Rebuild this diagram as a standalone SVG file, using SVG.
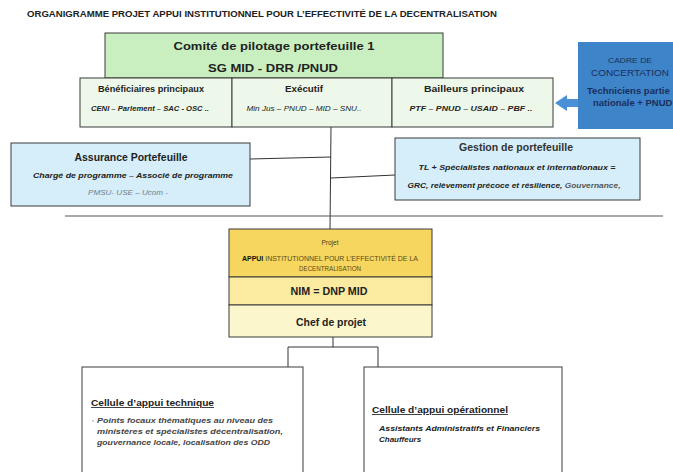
<svg xmlns="http://www.w3.org/2000/svg" width="673" height="472" viewBox="0 0 673 472">
<style>
text{font-family:"Liberation Sans",Arial,sans-serif;fill:#222}
.b{font-weight:bold}
.i{font-style:italic}
.c{text-anchor:middle}
.box{stroke:#3a3a3a;stroke-width:1}
.ln{stroke:#333;stroke-width:1;fill:none}
</style>
<rect width="673" height="472" fill="#ffffff"/>
<text x="27" y="17" class="b" font-size="8.5" textLength="470" lengthAdjust="spacingAndGlyphs">ORGANIGRAMME PROJET APPUI INSTITUTIONNEL POUR L’EFFECTIVITÉ DE LA DECENTRALISATION</text>

<g id="connectors">
<line class="ln" x1="331" y1="127" x2="330" y2="229"/>
<line class="ln" x1="250" y1="159" x2="331" y2="157"/>
<line class="ln" x1="331" y1="178" x2="395" y2="175"/>
<line x1="65" y1="216" x2="663" y2="216" stroke="#555" stroke-width="1.2"/>
<polyline class="ln" points="333,337 333,347"/>
<polyline class="ln" points="288,367 288,347 378,347 378,367"/>
<polygon points="555,103 567,95 567,99 578,99 578,107 567,107 567,111" fill="#4a90d6"/>
</g>

<g id="comite">
<rect class="box" x="105" y="33" width="338" height="45" fill="#c9efc0"/>
<text x="274" y="50" class="b c" font-size="11" textLength="201" lengthAdjust="spacingAndGlyphs">Comité de pilotage portefeuille 1</text>
<text x="273" y="72" class="b c" font-size="11.5" textLength="130" lengthAdjust="spacingAndGlyphs">SG MID - DRR /PNUD</text>
</g>

<g id="beneficiaires">
<rect class="box" x="80" y="78" width="152" height="49" fill="#eef8ea"/>
<text x="151" y="92" class="b c" font-size="9" textLength="106" lengthAdjust="spacingAndGlyphs">Bénéficiaires principaux</text>
<text x="150" y="111" class="b i c" font-size="8" textLength="118" lengthAdjust="spacingAndGlyphs">CENI – Parlement – SAC - OSC ..</text>
</g>
<g id="executif">
<rect class="box" x="232" y="78" width="160" height="49" fill="#eef8ea"/>
<text x="304" y="92" class="b c" font-size="9" textLength="38" lengthAdjust="spacingAndGlyphs">Exécutif</text>
<text x="304" y="111" class="i c" font-size="8" textLength="115" lengthAdjust="spacingAndGlyphs">Min Jus – PNUD – MID – SNU..</text>
</g>
<g id="bailleurs">
<rect class="box" x="392" y="78" width="161" height="49" fill="#eef8ea"/>
<text x="474" y="92" class="b c" font-size="9" textLength="100" lengthAdjust="spacingAndGlyphs">Bailleurs principaux</text>
<text x="471" y="111" class="b i c" font-size="8" textLength="123" lengthAdjust="spacingAndGlyphs">PTF – PNUD – USAID – PBF ..</text>
</g>

<g id="cadre">
<rect x="578" y="42" width="110" height="87" fill="#3d84c8"/>
<text x="630" y="63" class="c" font-size="8" style="fill:#1b2f5e" textLength="44" lengthAdjust="spacingAndGlyphs">CADRE DE</text>
<text x="630" y="76" class="c" font-size="8.5" style="fill:#1b2f5e" textLength="78" lengthAdjust="spacingAndGlyphs">CONCERTATION</text>
<text x="587" y="94" class="b" font-size="9.5" style="fill:#1b2f5e">Techniciens partie</text>
<text x="593" y="106" class="b" font-size="9.5" style="fill:#1b2f5e">nationale + PNUD</text>
</g>

<g id="assurance">
<rect class="box" x="11" y="143" width="239" height="63" fill="#d5eef9"/>
<text x="131" y="161" class="b c" font-size="10" textLength="113" lengthAdjust="spacingAndGlyphs">Assurance Portefeuille</text>
<text x="133" y="178" class="b i c" font-size="8" textLength="200" lengthAdjust="spacingAndGlyphs">Chargé de programme – Associé de programme</text>
<text x="128" y="195" class="i c" font-size="8" style="fill:#6b7d90" textLength="80" lengthAdjust="spacingAndGlyphs">PMSU- USE – Ucom -</text>
</g>

<g id="gestion">
<rect class="box" x="395" y="138" width="245" height="62" fill="#d5eef9" stroke-width="1.3"/>
<text x="516" y="151" class="b c" font-size="10" style="fill:#333" textLength="114" lengthAdjust="spacingAndGlyphs">Gestion de portefeuille</text>
<text x="517" y="170" class="b i c" font-size="8" textLength="197" lengthAdjust="spacingAndGlyphs">TL + Spécialistes nationaux et internationaux =</text>
<text x="514" y="188" class="b i c" font-size="8" textLength="213" lengthAdjust="spacingAndGlyphs">GRC, relèvement précoce et résilience, <tspan style="fill:#555">Gouvernance,</tspan></text>
</g>

<g id="projet">
<rect class="box" x="229" y="229" width="203" height="48" fill="#f6d65e"/>
<rect class="box" x="229" y="277" width="203" height="28" fill="#fbeba0"/>
<rect class="box" x="229" y="305" width="203" height="32" fill="#fbf6cc"/>
<text x="330" y="245" class="c" font-size="6.5" style="fill:#4a3e1a">Projet</text>
<text x="330" y="261" class="c" font-size="6.5" style="fill:#5a4a1a" textLength="176" lengthAdjust="spacingAndGlyphs"><tspan class="b" style="fill:#111">APPUI</tspan> INSTITUTIONNEL POUR L’EFFECTIVITÉ DE LA</text>
<text x="330" y="271" class="c" font-size="6.5" style="fill:#5a4a1a" textLength="62" lengthAdjust="spacingAndGlyphs">DECENTRALISATION</text>
<text x="329" y="295" class="b c" font-size="10" textLength="77" lengthAdjust="spacingAndGlyphs">NIM = DNP MID</text>
<text x="331" y="326" class="b c" font-size="10" textLength="70" lengthAdjust="spacingAndGlyphs">Chef de projet</text>
</g>

<g id="cellule-technique">
<rect class="box" x="82" y="367" width="221" height="120" fill="#ffffff"/>
<text x="91" y="406" class="b" font-size="8.5" text-decoration="underline" textLength="123" lengthAdjust="spacingAndGlyphs">Cellule d’appui technique</text>
<circle cx="93" cy="421" r="0.9" fill="#bbb"/>
<text x="97" y="423" class="b i" font-size="8" style="fill:#444" textLength="176" lengthAdjust="spacingAndGlyphs">Points focaux thématiques au niveau des</text>
<text x="97" y="434" class="b i" font-size="8" style="fill:#444" textLength="186" lengthAdjust="spacingAndGlyphs">ministères et spécialistes décentralisation,</text>
<text x="97" y="445" class="b i" font-size="8" style="fill:#444" textLength="173" lengthAdjust="spacingAndGlyphs">gouvernance locale, localisation des ODD</text>
</g>

<g id="cellule-operationnel">
<rect class="box" x="364" y="367" width="198" height="120" fill="#ffffff"/>
<text x="372" y="413" class="b" font-size="8.5" text-decoration="underline" textLength="136" lengthAdjust="spacingAndGlyphs">Cellule d’appui opérationnel</text>
<text x="379" y="431" class="b i" font-size="8" textLength="161" lengthAdjust="spacingAndGlyphs">Assistants Administratifs et Financiers</text>
<text x="379" y="442" class="b i" font-size="8">Chauffeurs</text>
</g>
</svg>
